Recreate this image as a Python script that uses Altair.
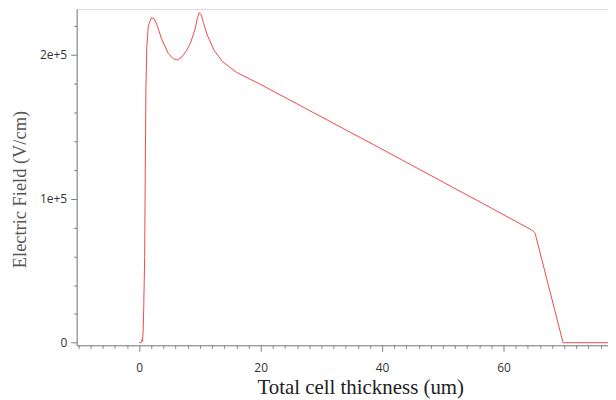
import altair as alt
import pandas as pd

thickness = [0, 0.3, 0.45, 0.55, 0.65, 0.75, 0.9, 1.0, 1.1, 1.25, 1.5, 2.0, 2.5, 3.0, 3.7, 4.8, 5.6,
             6.3, 7.0, 7.8, 8.5, 9.2, 9.6, 9.9, 10.2, 10.6, 11.2, 12.3, 13.7, 16.0, 20, 40, 55.6,
             64.8, 65.2, 69.8, 77.2]
field = [0, 0, 2000, 1000, 8000, 25000, 60000, 120000, 175000, 205000, 220000, 226000, 225000,
         220000, 211000, 201000, 197500, 196500, 198500, 203000, 209000, 218000, 226000, 229500,
         228000, 222000, 214000, 203500, 195500, 188000, 179500, 134500, 99000, 78000, 76000, 0, 0]

x_ticks = [v for v in range(-10, 78, 2)]
y_ticks = [v for v in range(0, 232000, 20000)]

df = pd.DataFrame({"x": thickness, "y": field})

xdom = [-10.3, 77.2]
ydom = [-1800, 232000]
axcol = "#808080"

xscale = alt.Scale(domain=xdom, nice=False, zero=False)
yscale = alt.Scale(domain=ydom, nice=False, zero=False)

x_tick_size = {"condition": {"test": "datum.value % 20 === 0", "value": 6}, "value": 3}
y_tick_size = {"condition": {"test": "datum.value % 100000 === 0", "value": 6}, "value": 3}

line = alt.Chart(df).mark_line(color="#ee4a4a", strokeWidth=1, clip=True).encode(
    x=alt.X("x:Q", scale=xscale,
            axis=alt.Axis(values=x_ticks, title="Total cell thickness (um)", grid=False,
                          domainColor=axcol, tickColor=axcol, tickSize=x_tick_size,
                          labelExpr="datum.value % 20 === 0 ? datum.label : ''",
                          labelFont="Open Sans", labelFontSize=12, labelColor="#333333",
                          labelPadding=11, labelOverlap=False,
                          titleFont="Liberation Serif", titleFontSize=21, titleFontWeight="normal",
                          titleColor="#222222", titleX=285, titleY=48,
                          titleBaseline="alphabetic", titleAlign="center")),
    y=alt.Y("y:Q", scale=yscale,
            axis=alt.Axis(values=y_ticks, title="Electric Field (V/cm)", grid=False,
                          domainColor=axcol, tickColor=axcol, tickSize=y_tick_size,
                          labelExpr="datum.value % 100000 !== 0 ? '' : (datum.value == 0 ? '0' : (datum.value/100000) + 'e+5')",
                          labelFont="Open Sans", labelFontSize=12, labelColor="#333333",
                          labelPadding=4, labelOverlap=False,
                          titleFont="Liberation Serif", titleFontSize=18.5, titleFontWeight="normal",
                          titleColor="#555555", titleX=-57, titleY=181,
                          titleAlign="center", titleBaseline="middle")),
)

chart = line.properties(
    width=534, height=338,
    autosize=alt.AutoSizeParams(type="none"),
    padding={"left": 69, "top": 0, "right": 0, "bottom": 54},
).configure_view(stroke=axcol, strokeWidth=1).configure(background="white")

chart.save("out.html", embed_options={"renderer": "svg", "actions": False})
